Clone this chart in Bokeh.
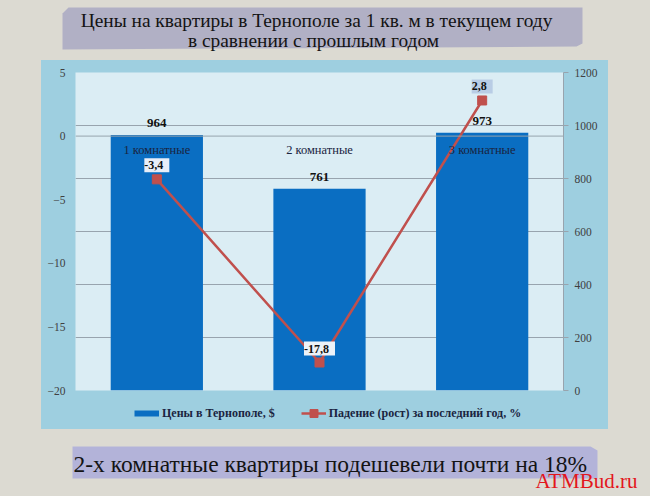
from bokeh.plotting import figure
from bokeh.models import (FactorRange, Range1d, LinearAxis, FixedTicker, Span, LabelSet,
                          ColumnDataSource, Legend, LegendItem, Grid, Spacer)
from bokeh.core.property.dataspec import DataSpec
from bokeh.layouts import column, row
from bokeh.core.properties import value
from bokeh.embed import file_html
from bokeh.resources import INLINE

# ---------------- data ----------------
categories = ["1 комнатные", "2 комнатные", "3 комнатные"]
prices = [964, 761, 973]            # $ per sq. m (right axis)
changes = [-3.4, -17.8, 2.8]        # % change (left axis)
left_ticks = [-20, -15, -10, -5, 0, 5]
right_ticks = [0, 200, 400, 600, 800, 1000, 1200]
title_lines = ["Цены на квартиры в Тернополе за 1 кв. м в текущем году",
               "в сравнении с прошлым годом"]
legend_labels = ["Цены в Тернополе, $", "Падение (рост) за последний год, %"]
footer_text = "2-х комнатные квартиры подешевели почти на 18%"
brand_text = "ATMBud.ru"

FONT = "Liberation Serif"
PAGE = "#dcdad2"
OUTER = "#9ecfe0"
PLOTBG = "#dbedf4"
BAR = "#0a6ec2"
RED = "#c0504d"
GRID = "#98a4ae"
label_boxes = ["#e8eef8", "#edf2f8", "#b9cde5"]


def strip(h, y0, y1):
    f = figure(width=650, height=h, x_range=Range1d(0, 650), y_range=Range1d(y1, y0),
               x_axis_type=None, y_axis_type=None, min_border=0,
               output_backend="svg", toolbar_location=None,
               background_fill_color=PAGE, border_fill_color=PAGE, outline_line_color=None)
    return f


# ---------------- title strip ----------------
top = strip(60, 0, 60)
top.patch(x=[62, 68, 582, 582, 576, 62], y=[13, 7, 7, 43, 46, 49],
          fill_color="#b1b0c5", line_color=None)
top.text(x=[316, 313], y=[20, 40], text=title_lines, text_align="center",
         text_baseline="middle", text_font=value(FONT), text_font_size="19.4px",
         text_color="#141414")

# ---------------- main chart ----------------
p = figure(width=567, height=338, x_range=FactorRange(*categories), y_range=Range1d(-20, 5),
           output_backend="svg", toolbar_location=None,
           min_border_left=34, min_border_right=45, min_border_top=12, min_border_bottom=8,
           background_fill_color=PLOTBG, border_fill_color=OUTER, outline_line_color=None)
p.extra_y_ranges = {"right": Range1d(0, 1200)}
p.xaxis.visible = False
p.xgrid.visible = False
p.ygrid.visible = False

ly = p.yaxis[0]
ly.ticker = FixedTicker(ticks=left_ticks)
ly.axis_line_color = None
ly.major_tick_line_color = None
ly.major_tick_out = 0
ly.major_tick_in = 0
ly.minor_tick_line_color = None
ly.major_label_standoff = 10
ly.major_label_text_font = FONT
ly.major_label_text_font_size = "11.5px"
ly.major_label_text_color = "#404040"

ry = LinearAxis(y_range_name="right", ticker=FixedTicker(ticks=right_ticks),
                axis_line_color=GRID, major_tick_line_color=GRID, major_tick_out=5,
                major_tick_in=0, minor_tick_line_color=None, major_label_standoff=6,
                major_label_text_font=FONT, major_label_text_font_size="11.5px",
                major_label_text_color="#404040")
p.add_layout(ry, "right")

p.add_layout(Grid(dimension=1, ticker=FixedTicker(ticks=right_ticks[:-1]), y_range_name="right",
                  grid_line_color=GRID, grid_line_width=1))

p.vbar(x=categories, top=prices, bottom=0, width=0.567, y_range_name="right",
       fill_color=BAR, line_color=None)
p.add_layout(Span(location=0, dimension="width", line_color=GRID, line_width=1))

p.line(x=categories, y=changes, line_color=RED, line_width=2.5)
p.scatter(x=categories, y=changes, marker="square", size=9, fill_color=RED, line_color=RED)

# category labels inside the plot (axis crossing at 0)
cat_src = ColumnDataSource(dict(x=categories, y=[0] * len(categories), t=categories))
p.add_layout(LabelSet(x="x", y="y", text="t", source=cat_src, y_offset=-14,
                      text_align="center", text_baseline="middle", text_font=value(FONT),
                      text_font_size="12.5px", text_color="#1a2440"))

# value labels on bars
bar_src = ColumnDataSource(dict(x=categories, y=prices, t=[str(v) for v in prices]))
p.add_layout(LabelSet(x="x", y="y", text="t", source=bar_src, y_range_name="right",
                      y_offset=12, text_align="center", text_baseline="middle",
                      text_font=value(FONT), text_font_size="13px", text_font_style="bold",
                      text_color="#111111"))

# value labels on line
line_src = ColumnDataSource(dict(x=categories, y=changes, bg=label_boxes,
                                 t=[" " + f"{v:.1f}".replace(".", ",") + " " for v in changes]))
bg_prop = LabelSet.lookup("background_fill_color").property
bg_spec = "bg" if isinstance(bg_prop, DataSpec) else label_boxes[0]
p.add_layout(LabelSet(x="x", y="y", text="t", source=line_src, y_offset=14,
                      text_align="center", text_baseline="middle",
                      text_font=value(FONT), text_font_size="12px", text_font_style="bold",
                      text_color="#111111", background_fill_color=bg_spec))

# ---------------- legend strip (inside the light-blue chart box) ----------------
lg = figure(width=567, height=31, x_range=Range1d(0, 1), y_range=Range1d(0, 1),
            x_axis_type=None, y_axis_type=None, min_border=0,
            output_backend="svg", toolbar_location=None,
            background_fill_alpha=0, border_fill_alpha=0, outline_line_color=None)
lr_bar = lg.line(x=[5, 6], y=[5, 5], line_color=BAR, line_width=6)
lr_line = lg.line(x=[5, 6], y=[5, 5], line_color=RED, line_width=2.5)
lr_pts = lg.scatter(x=[5], y=[5], marker="square", size=8, fill_color=RED, line_color=RED)
legend = Legend(items=[LegendItem(label=legend_labels[0], renderers=[lr_bar]),
                       LegendItem(label=legend_labels[1], renderers=[lr_line, lr_pts])],
                orientation="horizontal", location=(59, 6), glyph_width=25,
                glyph_height=20, label_height=20, label_standoff=3, spacing=26,
                padding=0, margin=0, border_line_color=None, background_fill_alpha=0,
                label_text_font=FONT, label_text_font_size="12px",
                label_text_font_style="bold", label_text_color="#1a2440")
lg.add_layout(legend)

# ---------------- footer strip ----------------
bot = strip(67, 429, 496)
bot.patch(x=[72, 590, 597, 597, 72], y=[446, 446, 450, 478, 478],
          fill_color="#b3b3d9", line_color=None)
bot.text(x=[73], y=[463], text=[footer_text], text_align="left", text_baseline="middle",
         text_font=value(FONT), text_font_size="23.5px", text_color="#141414")
bot.text(x=[637], y=[480], text=[brand_text], text_align="right", text_baseline="middle",
         text_font=value(FONT), text_font_size="21px", text_color="#e3161c")

layout = column(top,
                row(Spacer(width=41, height=369),
                    column(p, lg, styles={"background-color": OUTER}),
                    Spacer(width=42, height=369)),
                bot, styles={"background-color": PAGE})

open("out.html", "w").write(file_html(layout, INLINE))
